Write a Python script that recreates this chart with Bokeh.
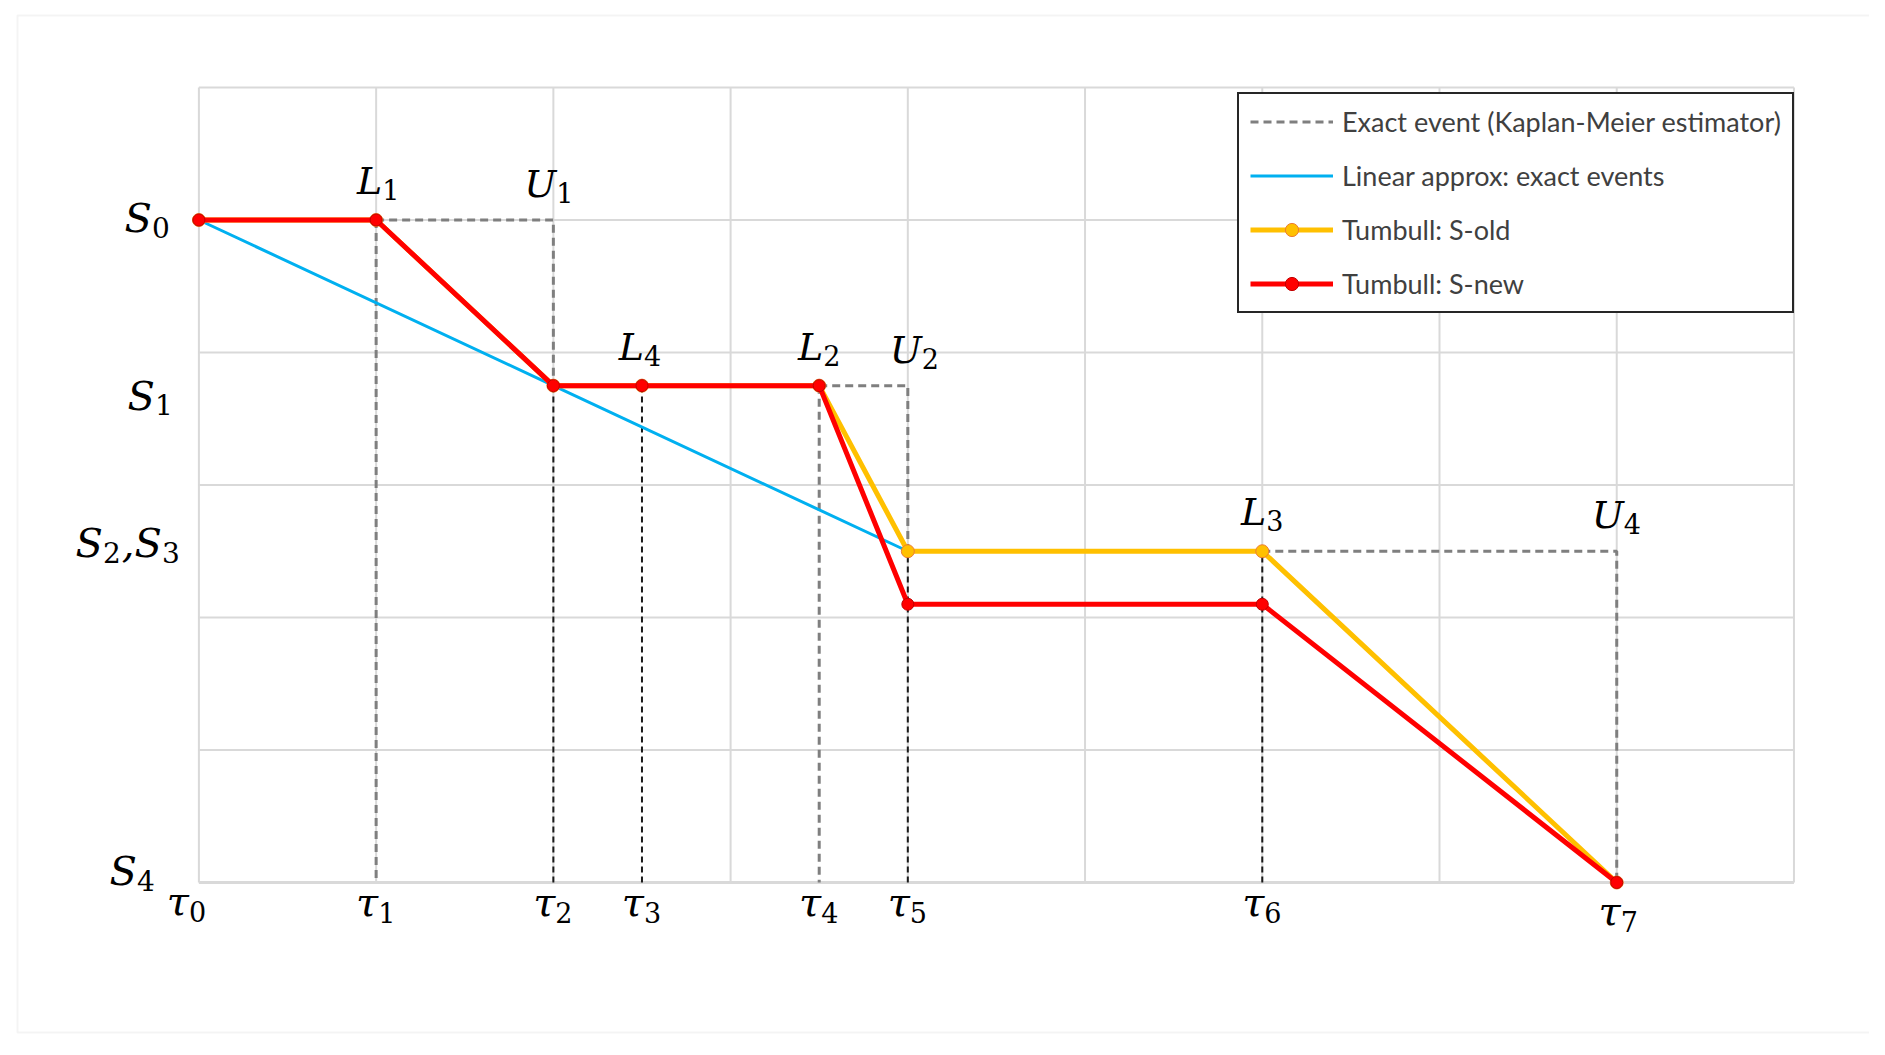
from bokeh.plotting import figure
from bokeh.models import (Range1d, Legend, LegendItem, ColumnDataSource, LabelSet, BoxAnnotation)
from bokeh.core.properties import value
from bokeh.embed import file_html
from bokeh.resources import INLINE

# ---------------- data ----------------
x_grid = [0, 1, 2, 3, 4, 5, 6, 7, 8, 9]
y_grid = [0, 1, 2, 3, 4, 5, 6]

tau_x = [0, 1, 2, 2.5, 3.5, 4, 6, 8]            # tau_0 .. tau_7
tau_sub = ["0", "1", "2", "3", "4", "5", "6", "7"]

s_level_y = [5, 3.75, 2.5, 2.5, 0]               # S0, S1, S2, S3, S4
s_level_base = ["S", "S", "S", ",S", "S"]
s_level_sub = ["0", "1", "2", "3", "4"]

snew_x = [0, 1, 2, 2.5, 3.5, 4, 6, 8]
snew_y = [5, 5, 3.75, 3.75, 3.75, 2.1, 2.1, 0]
sold_x = [0, 1, 2, 2.5, 3.5, 4, 6, 8]
sold_y = [5, 5, 3.75, 3.75, 3.75, 2.5, 2.5, 0]
lin_x = [0, 2, 4]
lin_y = [5, 3.75, 2.5]

km_xs = [[1, 2, 2], [3.5, 4, 4], [6, 8, 8], [1, 1], [3.5, 3.5]]
km_ys = [[5, 5, 3.75], [3.75, 3.75, 2.5], [2.5, 2.5, 0], [5, 0], [3.75, 0]]

drop_x = [2, 2.5, 4, 6]
drop_top = [3.75, 3.75, 2.5, 2.5]

pt_x = [1, 2, 2.5, 3.5, 4, 6, 8]
pt_y = [5, 5, 3.75, 3.75, 3.75, 2.5, 2.5]
pt_base = ["L", "U", "L", "L", "U", "L", "U"]
pt_sub = ["1", "1", "4", "2", "2", "3", "4"]

legend_labels = ["Exact event (Kaplan-Meier estimator)", "Linear approx: exact events",
                 "Tumbull: S-old", "Tumbull: S-new"]

# ---------------- layout constants (pixels) ----------------
W, H = 1869, 1039
X0PX, XS = 198.4, 177.23     # pixel of x=0, pixels per x unit
Y0PX, YS = 882.0, 132.5      # pixel of y=0, pixels per y unit

p = figure(width=W, height=H, frame_width=W, frame_height=H,
           min_border_left=0, min_border_right=0, min_border_top=0, min_border_bottom=0,
           x_range=Range1d(-X0PX / XS, (W - X0PX) / XS),
           y_range=Range1d(-(H - Y0PX) / YS, Y0PX / YS),
           x_axis_type=None, y_axis_type=None,
           output_backend="svg", toolbar_location=None,
           background_fill_color="white", border_fill_color="white")
p.outline_line_color = None
p.xgrid.visible = False
p.ygrid.visible = False

# outer light border of the whole chart
p.add_layout(BoxAnnotation(left=(17 - X0PX) / XS, right=(1871 - X0PX) / XS,
                           top=(Y0PX - 15) / YS, bottom=(Y0PX - 1032) / YS,
                           fill_alpha=0, line_color="#d9d9d9", line_width=2, level="underlay"))

GRID = "#d9d9d9"
p.segment(x0=x_grid, y0=[y_grid[0]] * len(x_grid), x1=x_grid, y1=[y_grid[-1]] * len(x_grid),
          line_color=GRID, line_width=2)
p.segment(x0=[x_grid[0]] * len(y_grid), y0=y_grid, x1=[x_grid[-1]] * len(y_grid), y1=y_grid,
          line_color=GRID, line_width=2)
p.segment(x0=[x_grid[0]], y0=[0], x1=[x_grid[-1]], y1=[0], line_color="#d9d9d9", line_width=3)

# drop lines (thin black dashed)
p.segment(x0=drop_x, y0=[0] * len(drop_x), x1=drop_x, y1=drop_top,
          line_color="#1a1a1a", line_width=2, line_dash="6 4")

# KM estimator (gray dashed)
r_km = p.multi_line(xs=km_xs, ys=km_ys, line_color="#7f7f7f", line_width=3, line_dash="8 5")

# linear approx
r_lin = p.line(lin_x, lin_y, line_color="#00b0f0", line_width=3)

# S-old
r_old_l = p.line(sold_x, sold_y, line_color="#ffc000", line_width=5)
r_old_m = p.scatter(sold_x, sold_y, size=13, marker="circle",
                    fill_color="#ffc000", line_color="#ed7d31", line_width=1)

# S-new
r_new_l = p.line(snew_x, snew_y, line_color="#ff0000", line_width=5)
r_new_m = p.scatter(snew_x, snew_y, size=12, marker="circle",
                    fill_color="#ff0000", line_color="#c00000", line_width=1)

# ---------------- math-like labels ----------------
SERIF = value("DejaVu Serif")

def labels(xs, ys, base, sub, bsize, ssize, dx, by, sy):
    sb = ColumnDataSource(dict(x=xs, y=ys, t=base, dx=dx, dy=by))
    ss = ColumnDataSource(dict(x=xs, y=ys, t=sub, dx=dx, dy=sy))
    p.add_layout(LabelSet(x="x", y="y", text="t", source=sb, x_offset="dx", y_offset="dy",
                          text_font=SERIF, text_font_style="italic",
                          text_font_size=value(f"{bsize}px"), text_align="right",
                          text_baseline="alphabetic", text_color="black"))
    p.add_layout(LabelSet(x="x", y="y", text="t", source=ss, x_offset="dx", y_offset="dy",
                          text_font=SERIF, text_font_style="normal",
                          text_font_size=value(f"{ssize}px"), text_align="left",
                          text_baseline="alphabetic", text_color="black"))

# S labels on the left
labels([0] * 5, s_level_y, s_level_base, s_level_sub, 40, 28,
       [-47, -44, -96, -37, -62], [-12, -24, -6, -6, -2], [-18, -29, -12, -12, -8])
# tau labels below
labels(tau_x, [0] * 8, ["τ"] * 8, tau_sub, 40, 27,
       [-10, 2, 2, 2, 2, 2, 2, 4],
       [-32, -33, -33, -33, -33, -33, -33, -42],
       [-39, -40, -40, -40, -40, -40, -40, -49])
# L / U labels
labels(pt_x, pt_y, pt_base, pt_sub, 38, 27,
       [6, 3, 2, 4, 14, 4, 7], [26, 23, 26, 26, 23, 26, 23], [20, 17, 20, 20, 17, 20, 17])

# ---------------- legend ----------------
legend = Legend(items=[
    LegendItem(label=legend_labels[0], renderers=[r_km]),
    LegendItem(label=legend_labels[1], renderers=[r_lin]),
    LegendItem(label=legend_labels[2], renderers=[r_old_l, r_old_m]),
    LegendItem(label=legend_labels[3], renderers=[r_new_l, r_new_m]),
], location=(1237, H - 313))
legend.label_text_font = "Lato"
legend.label_text_font_size = "27px"
legend.label_text_color = "#404040"
legend.glyph_width = 83
legend.glyph_height = 33
legend.label_height = 24
legend.label_standoff = 9
legend.spacing = 21
legend.padding = 11
legend.margin = 0
legend.border_line_color = "#262626"
legend.border_line_width = 2
legend.border_line_alpha = 1
legend.background_fill_color = "white"
legend.background_fill_alpha = 1
p.add_layout(legend, "center")

open("out.html", "w").write(file_html(p, INLINE))
